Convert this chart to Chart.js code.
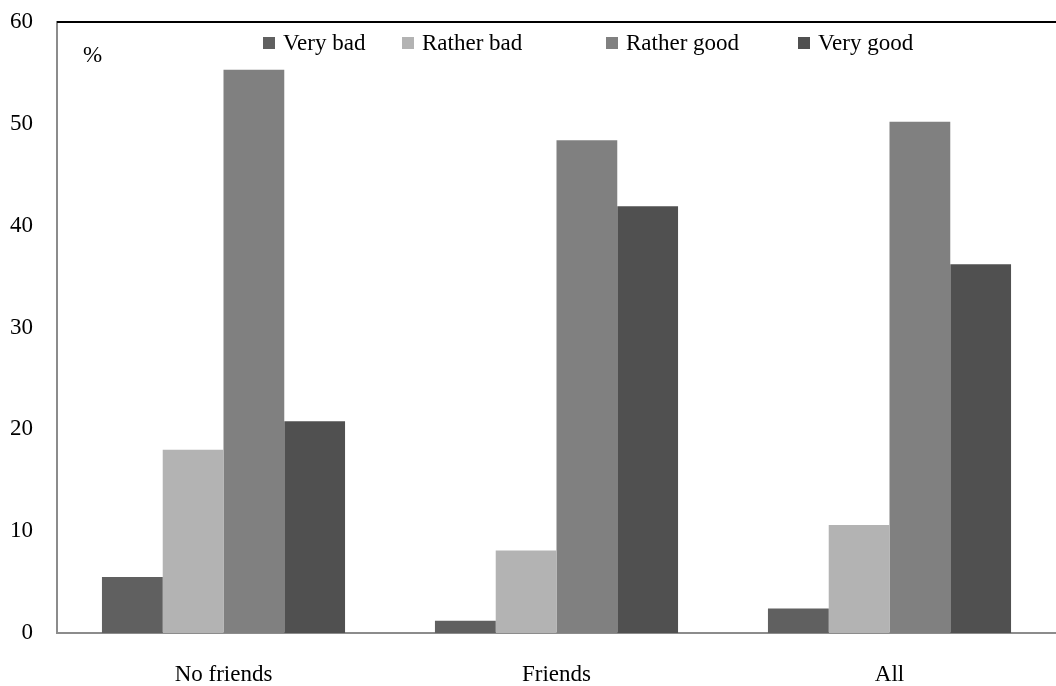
<html>
<head>
<title>Health by friends</title>
<script src="https://cdn.jsdelivr.net/npm/chart.js"></script>
<style>
  body { margin: 0; background: #fff; }
  #wrap { width: 1056px; height: 686px; }
</style>
</head>
<body>
<div id="wrap"><canvas id="myChart" width="1056" height="686"></canvas></div>
<script>
// categories and series
const categories = ['No friends', 'Friends', 'All'];
const veryBad    = [5.5, 1.2, 2.4];
const ratherBad  = [18.0, 8.1, 10.6];
const ratherGood = [55.3, 48.4, 50.2];
const veryGood   = [20.8, 41.9, 36.2];
const yTicks     = [0, 10, 20, 30, 40, 50, 60];

const seriesNames  = ['Very bad', 'Rather bad', 'Rather good', 'Very good'];
const seriesColors = ['#606060', '#b3b3b3', '#808080', '#505050'];
// legend item left edges (layout only)
const legendX = [263, 402, 606, 798];

const font = { family: 'Liberation Serif', size: 23 };

// custom legend, top border line and "%" label
const extras = {
  id: 'extras',
  afterDraw(chart) {
    const ctx = chart.ctx;
    const a = chart.chartArea;
    ctx.save();
    ctx.strokeStyle = '#000';
    ctx.lineWidth = 2;
    ctx.beginPath();
    ctx.moveTo(a.left, a.top);
    ctx.lineTo(a.right, a.top);
    ctx.stroke();

    ctx.font = '23px "Liberation Serif"';
    ctx.fillStyle = '#000';
    ctx.textBaseline = 'middle';
    ctx.fillText('%', 83, 56);

    seriesNames.forEach((n, i) => {
      ctx.fillStyle = seriesColors[i];
      ctx.fillRect(legendX[i], 37, 12, 12);
      ctx.fillStyle = '#000';
      ctx.fillText(n, legendX[i] + 20, 44);
    });
    ctx.restore();
  }
};

const config = {
  type: 'bar',
  data: {
    labels: categories,
    datasets: [veryBad, ratherBad, ratherGood, veryGood].map((d, i) => ({
      label: seriesNames[i],
      data: d,
      backgroundColor: seriesColors[i],
      borderWidth: 0
    }))
  },
  options: {
    responsive: false,
    animation: false,
    layout: { padding: { top: 22, right: 0, left: 0, bottom: 0 } },
    datasets: { bar: { categoryPercentage: 0.73, barPercentage: 1.0 } },
    plugins: { legend: { display: false }, tooltip: { enabled: false } },
    scales: {
      x: {
        afterFit: (axis) => { axis.height = 53; },
        grid: { display: false },
        border: { color: '#8c8c8c', width: 2 },
        ticks: { font: font, color: '#000', padding: 20 }
      },
      y: {
        min: 0,
        max: 60,
        afterFit: (axis) => { axis.width = 57; axis.paddingTop = 0; axis.paddingBottom = 0; },
        afterBuildTicks: (axis) => { axis.ticks = yTicks.map(v => ({ value: v })); },
        grid: { display: false },
        border: { color: '#8c8c8c', width: 2 },
        ticks: { font: font, color: '#000', padding: 16 }
      }
    }
  },
  plugins: [extras]
};

const myChart = new Chart(document.getElementById('myChart'), config);
</script>
</body>
</html>
